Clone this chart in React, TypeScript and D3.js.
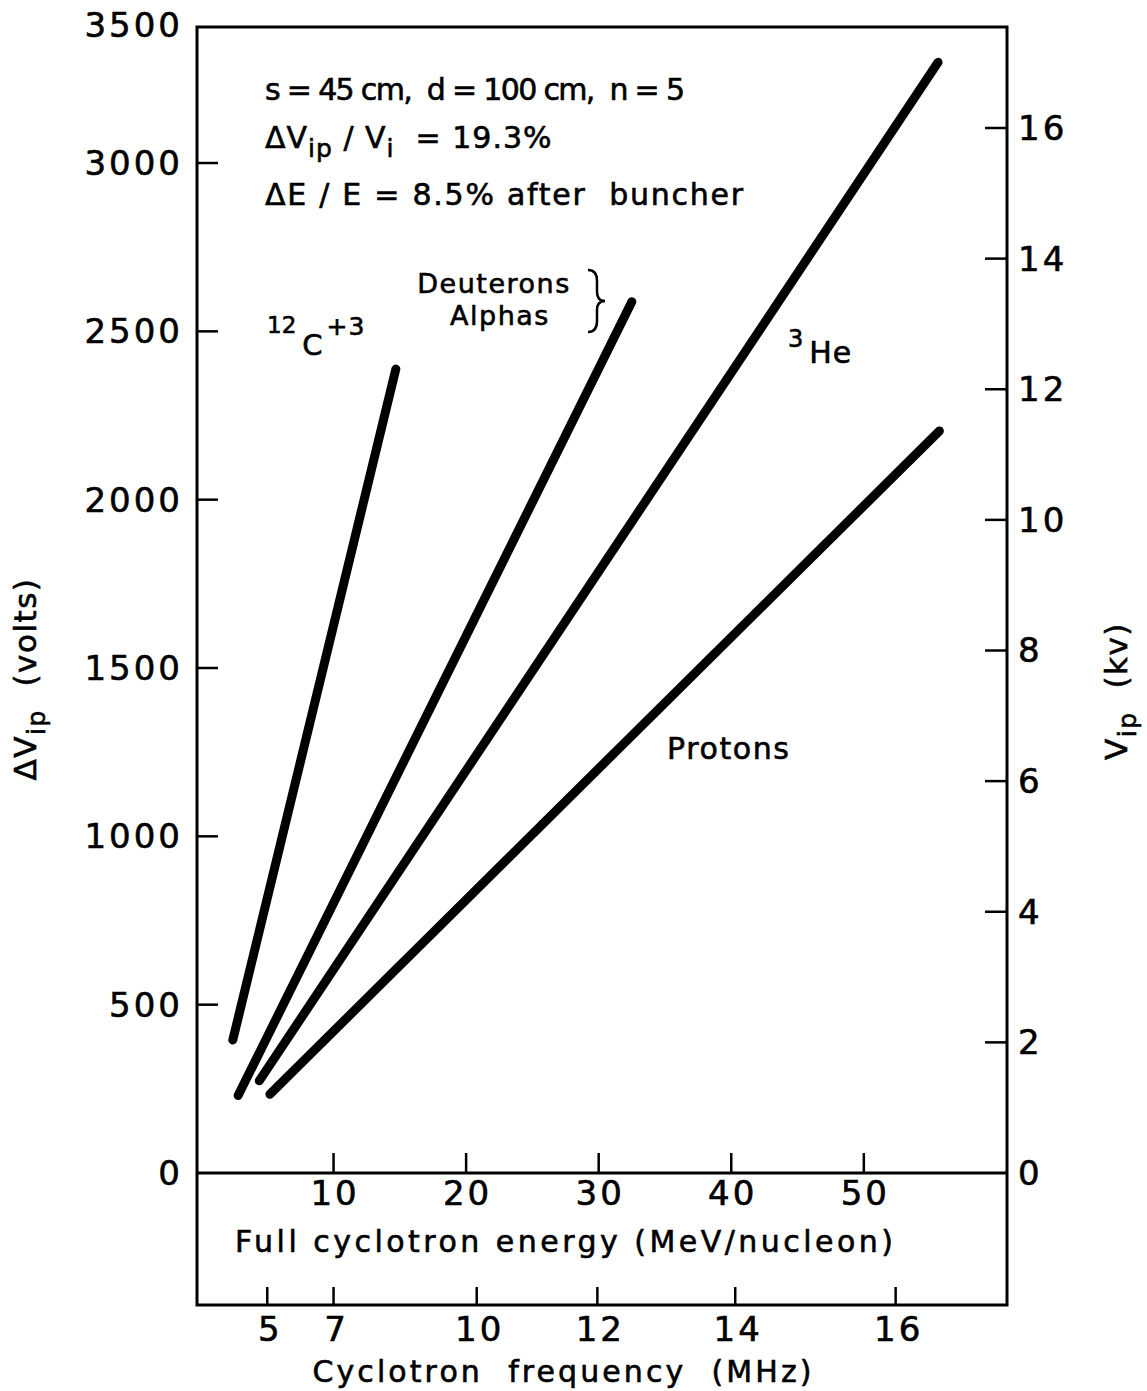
import React from 'react';
import * as d3 from 'd3';

// axis values
const voltTicks = [0, 500, 1000, 1500, 2000, 2500, 3000];
const voltTopLabel = '3500';
const kvTicks = [0, 2, 4, 6, 8, 10, 12, 14, 16];
const energyTicks = [10, 20, 30, 40, 50];
const freqTicks = [5, 7, 10, 12, 14, 16];
// where each MHz tick sits on the energy (MeV/nucleon) scale
const freqTickEnergy = [5.0, 10.0, 20.8, 29.9, 40.3, 52.4];
const voltsPerKv = 194;

// the four beam lines: start and end points (energy, volts)
const beamNames = ['12C+3', 'Deuterons / Alphas', '3He', 'Protons'];
const startEnergy = [2.4, 2.8, 4.4, 5.2];
const startVolts = [395, 230, 274, 234];
const endEnergy = [14.7, 32.5, 55.6, 55.7];
const endVolts = [2388, 2588, 3299, 2204];

const W = 1147;
const H = 1391;
const font = '"DejaVu Sans", sans-serif';

const App = () => {
  const x = d3.scaleLinear().domain([-0.3, 60.8]).range([197, 1007]);
  const yV = d3.scaleLinear().domain([0, 3404]).range([1173, 27]);
  const yKv = d3.scaleLinear().domain([0, 3404 / voltsPerKv]).range([1173, 27]);

  const left = x.range()[0];
  const right = x.range()[1];
  const top = yV.range()[1];
  const zeroY = yV(0);
  const bottom = 1305;

  const line = d3.line<[number, number]>().x(d => x(d[0])).y(d => yV(d[1]));
  const beams = beamNames.map((name, i) => ({
    name,
    pts: [[startEnergy[i], startVolts[i]], [endEnergy[i], endVolts[i]]] as [number, number][],
  }));

  // a thin outline makes the lettering a bit heavier, like the drawn original
  const ink = { fill: '#000', stroke: '#000', strokeWidth: 0.6 };
  const tickFont = { fontFamily: font, fontSize: 34, letterSpacing: 3, ...ink };
  const textFont = { fontFamily: font, fontSize: 30, ...ink };

  return (
    <svg width={W} height={H} style={{ position: 'absolute', left: 0, top: 0, background: '#fff' }}>
      <rect width={W} height={H} fill="#fff" />

      {/* frame */}
      <g stroke="#000" strokeWidth={3} fill="none">
        <rect x={left} y={top} width={right - left} height={bottom - top} />
        <line x1={left} x2={right} y1={zeroY} y2={zeroY} />
      </g>

      {/* left axis: volts */}
      <g>
        {voltTicks.filter(v => v > 0).map(v => (
          <line key={v} x1={left} x2={left + 21} y1={yV(v)} y2={yV(v)} stroke="#000" strokeWidth={2.5} />
        ))}
        {voltTicks.map(v => (
          <text key={v} x={183} y={yV(v)} textAnchor="end" dominantBaseline="central" {...tickFont}>{v}</text>
        ))}
        <text x={183} y={top - 2} textAnchor="end" dominantBaseline="central" {...tickFont}>{voltTopLabel}</text>
      </g>

      {/* right axis: kV */}
      <g>
        {kvTicks.filter(v => v > 0).map(v => (
          <line key={v} x1={right - 22} x2={right} y1={yKv(v)} y2={yKv(v)} stroke="#000" strokeWidth={2.5} />
        ))}
        {kvTicks.map(v => (
          <text key={v} x={1018} y={yKv(v)} textAnchor="start" dominantBaseline="central" {...tickFont}>{v}</text>
        ))}
      </g>

      {/* energy axis on the zero line */}
      <g>
        {energyTicks.map(e => (
          <line key={e} x1={x(e)} x2={x(e)} y1={zeroY} y2={zeroY - 20} stroke="#000" strokeWidth={2.5} />
        ))}
        {energyTicks.map(e => (
          <text key={e} x={x(e) + 1.5} y={1205} textAnchor="middle" {...tickFont}>{e}</text>
        ))}
        <text x={564} y={1252} textAnchor="middle" textLength={658} lengthAdjust="spacing" {...textFont} style={{ whiteSpace: 'pre' }}>
          Full cyclotron energy (MeV/nucleon)
        </text>
      </g>

      {/* frequency axis on the bottom */}
      <g>
        {freqTicks.map((f, i) => (
          <line key={f} x1={x(freqTickEnergy[i])} x2={x(freqTickEnergy[i])} y1={bottom} y2={bottom - 18} stroke="#000" strokeWidth={2.5} />
        ))}
        {freqTicks.map((f, i) => (
          <text key={f} x={x(freqTickEnergy[i]) + 3} y={1341} textAnchor="middle" {...tickFont}>{f}</text>
        ))}
        <text x={562} y={1382} textAnchor="middle" textLength={499} lengthAdjust="spacing" {...textFont} style={{ whiteSpace: 'pre' }}>
          {'Cyclotron  frequency  (MHz)'}
        </text>
      </g>

      {/* beam lines */}
      <g fill="none" stroke="#000" strokeWidth={9} strokeLinecap="round">
        {beams.map(b => (
          <path key={b.name} d={line(b.pts) || ''} />
        ))}
      </g>

      {/* parameters */}
      <g {...textFont}>
        <text x={265} y={100} textLength={420} lengthAdjust="spacing" style={{ whiteSpace: 'pre' }}>
          {'s = 45 cm,  d = 100 cm,  n = 5'}
        </text>
        <text x={265} y={148} letterSpacing={1} style={{ whiteSpace: 'pre' }}>
          {'ΔV'}
          <tspan fontSize={25} dy={9}>ip</tspan>
          <tspan dy={-9}>{' / V'}</tspan>
          <tspan fontSize={25} dy={9}>i</tspan>
          <tspan dy={-9}>{'  = 19.3%'}</tspan>
        </text>
        <text x={265} y={205} textLength={478} lengthAdjust="spacing" style={{ whiteSpace: 'pre' }}>
          {'ΔE / E = 8.5% after  buncher'}
        </text>
      </g>

      {/* beam labels */}
      <g fontFamily={font} {...ink}>
        <text x={267} y={355} style={{ whiteSpace: 'pre' }}>
          <tspan fontSize={23} dy={-22}>12</tspan>
          <tspan fontSize={29} dx={6} dy={22}>C</tspan>
          <tspan fontSize={25} dx={4} dy={-20} letterSpacing={1}>+3</tspan>
        </text>
        <text x={494} y={293} textAnchor="middle" fontSize={27} letterSpacing={1.5}>Deuterons</text>
        <text x={500} y={325} textAnchor="middle" fontSize={27} letterSpacing={1.5}>Alphas</text>
        <path d="M588,270 Q597,270 597,281 L597,292 Q597,301 605,301 Q597,301 597,310 L597,321 Q597,332 588,332"
          fill="none" stroke="#000" strokeWidth={2.5} />
        <text x={788} y={363}>
          <tspan fontSize={24} dy={-16}>3</tspan>
          <tspan fontSize={30} dx={6} dy={16} letterSpacing={1}>He</tspan>
        </text>
        <text x={667} y={759} fontSize={30} letterSpacing={1.6}>Protons</text>
      </g>

      {/* axis titles */}
      <text transform="translate(36,679) rotate(-90)" textAnchor="middle" fontFamily={font} fontSize={31} letterSpacing={1.5} {...ink} style={{ whiteSpace: 'pre' }}>
        {'ΔV'}
        <tspan fontSize={25} dy={9}>ip</tspan>
        <tspan dy={-9}>{'  (volts)'}</tspan>
      </text>
      <text transform="translate(1127,691) rotate(-90)" textAnchor="middle" fontFamily={font} fontSize={31} letterSpacing={1.5} {...ink} style={{ whiteSpace: 'pre' }}>
        {'V'}
        <tspan fontSize={25} dy={9}>ip</tspan>
        <tspan dy={-9}>{'  (kv)'}</tspan>
      </text>
    </svg>
  );
};

export default App;
